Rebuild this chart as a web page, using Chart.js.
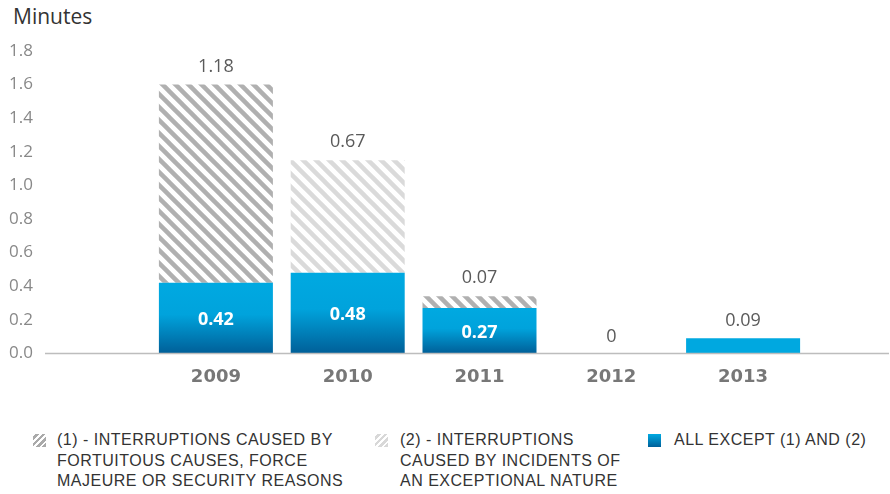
<!DOCTYPE html>
<html>
<head>
<meta charset="utf-8">
<script src="https://cdn.jsdelivr.net/npm/chart.js@4.4.1/dist/chart.umd.min.js"></script>
<style>
  body { margin: 0; background: #fff; }
  #wrap { position: relative; width: 890px; height: 494px; font-family: "Open Sans", "DejaVu Sans", sans-serif; }
  #box { position: absolute; left: 0; top: 0; width: 890px; height: 393px; }
  .title { position: absolute; left: 13px; top: 2px; font-size: 21px; color: #333; }
  .leg { position: absolute; top: 430px; font-family: "Liberation Sans", Arial, sans-serif; font-size: 16px; letter-spacing: 0.5px; line-height: 20.5px; color: #333; }
  .sw { position: absolute; left: 0; top: 4px; width: 13px; height: 13px; }
  .leg span.t { display: block; }
</style>
</head>
<body>
<div id="wrap">
  <div class="title">Minutes</div>
  <div id="box"><canvas id="chart"></canvas></div>
  <div class="leg" style="left:33px"><div class="sw" style="background:repeating-linear-gradient(135deg,#fff 0 2px,#aaa 2px 4.5px)"></div><span class="t" style="margin-left:24px">(1) - INTERRUPTIONS CAUSED BY<br>FORTUITOUS CAUSES, FORCE<br>MAJEURE OR SECURITY REASONS</span></div>
  <div class="leg" style="left:375px"><div class="sw" style="background:repeating-linear-gradient(135deg,#fff 0 2px,#d8d8d8 2px 4.5px)"></div><span class="t" style="margin-left:25px">(2) - INTERRUPTIONS<br>CAUSED BY INCIDENTS OF<br>AN EXCEPTIONAL NATURE</span></div>
  <div class="leg" style="left:648px"><div class="sw" style="background:linear-gradient(#00aae2,#00609a)"></div><span class="t" style="margin-left:26px">ALL EXCEPT (1) AND (2)</span></div>
</div>
<script>
const years = ['2009', '2010', '2011', '2012', '2013'];
const allOther = [0.42, 0.48, 0.27, 0, 0.09];
const fortuitous = [1.18, 0, 0.07, 0, 0];
const exceptional = [0, 0.67, 0, 0, 0];

function stripes(color) {
  const s = 13;
  const c = document.createElement('canvas');
  c.width = s; c.height = s;
  const g = c.getContext('2d');
  g.strokeStyle = color;
  g.lineWidth = 4.5;
  for (let k = -1; k <= 1; k++) {
    g.beginPath();
    g.moveTo(k * s - 2, -2);
    g.lineTo(k * s + s + 2, s + 2);
    g.stroke();
  }
  return g.createPattern(c, 'repeat');
}

function blueFill(context) {
  const chart = context.chart;
  const v = context.raw;
  if (!chart.chartArea || v < 0.2) return '#00a8e0';
  const y = chart.scales.y;
  const top = y.getPixelForValue(v);
  const bottom = y.getPixelForValue(0);
  const grad = chart.ctx.createLinearGradient(0, top, 0, bottom);
  grad.addColorStop(0, '#00a9e1');
  grad.addColorStop(0.45, '#00a3dc');
  grad.addColorStop(1, '#005f98');
  return grad;
}

const baseLine = {
  id: 'baseLine',
  afterDatasetsDraw(chart) {
    const ctx = chart.ctx;
    const y0 = chart.scales.y.getPixelForValue(0);
    ctx.save();
    ctx.strokeStyle = '#bdbdbd';
    ctx.lineWidth = 1.5;
    ctx.beginPath();
    ctx.moveTo(45, y0);
    ctx.lineTo(889, y0);
    ctx.stroke();
    ctx.restore();
  }
};

const valueLabels = {
  id: 'valueLabels',
  afterDatasetsDraw(chart) {
    const ctx = chart.ctx;
    const y = chart.scales.y;
    const meta = chart.getDatasetMeta(0);
    ctx.save();
    ctx.textAlign = 'center';
    ctx.textBaseline = 'middle';
    years.forEach((yr, i) => {
      const x = meta.data[i].x;
      const hatch = fortuitous[i] + exceptional[i];
      const total = allOther[i] + hatch;
      ctx.font = '18px "Open Sans", sans-serif';
      ctx.fillStyle = '#5a5a5a';
      if (hatch > 0) {
        ctx.fillText(String(hatch), x, y.getPixelForValue(total) - 18);
        ctx.font = 'bold 18px "Open Sans", sans-serif';
        ctx.fillStyle = '#fff';
        ctx.fillText(String(allOther[i]), x, (y.getPixelForValue(allOther[i]) + y.getPixelForValue(0)) / 2 + 2);
      } else {
        ctx.fillText(String(allOther[i]), x, y.getPixelForValue(total) - 17);
      }
    });
    ctx.restore();
  }
};

new Chart(document.getElementById('chart'), {
  type: 'bar',
  data: {
    labels: years,
    datasets: [
      { label: 'ALL EXCEPT (1) AND (2)', data: allOther, backgroundColor: blueFill },
      { label: '(1)', data: fortuitous, backgroundColor: stripes('#b0b0b0') },
      { label: '(2)', data: exceptional, backgroundColor: stripes('#dadada') }
    ]
  },
  options: {
    responsive: true,
    maintainAspectRatio: false,
    animation: false,
    layout: { padding: { top: 51, right: 81, bottom: 0, left: 0 } },
    datasets: { bar: { categoryPercentage: 1, barPercentage: 0.865 } },
    plugins: {
      legend: { display: false },
      tooltip: { enabled: false }
    },
    scales: {
      x: {
        stacked: true,
        grid: { display: false },
        border: { display: false },
        ticks: { color: '#777', padding: 5, font: { size: 18, weight: 'bold', family: '"DejaVu Sans", sans-serif' } }
      },
      y: {
        stacked: true,
        min: 0,
        max: 1.8,
        afterFit(scale) {
          scale.width = 150;
          scale.paddingTop = 10;
          scale.paddingBottom = 10;
        },
        grid: { display: false, drawTicks: false },
        border: { display: false },
        ticks: {
          stepSize: 0.2,
          padding: 117,
          color: '#888',
          font: { size: 17, family: '"Open Sans", sans-serif' },
          callback: v => v.toFixed(1)
        }
      }
    }
  },
  plugins: [baseLine, valueLabels]
});
</script>
</body>
</html>
